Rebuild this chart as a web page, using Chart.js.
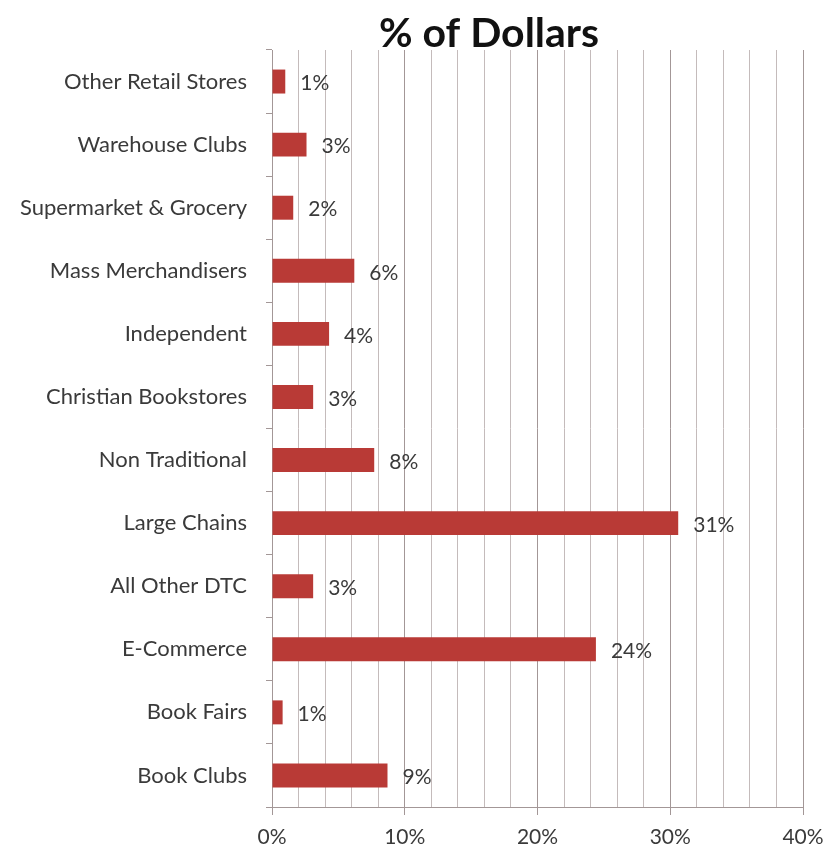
<!DOCTYPE html>
<html>
<head>
<meta charset="utf-8">
<script src="https://cdn.jsdelivr.net/npm/chart.js@4.4.1/dist/chart.umd.min.js"></script>
<style>
  html, body { margin: 0; padding: 0; background: #ffffff; }
  #wrap { width: 830px; height: 856px; position: relative; }
</style>
</head>
<body>
<div id="wrap"><canvas id="chart" width="830" height="856"></canvas></div>
<script>
// Share of book sales dollars by retail channel (percent)
const channels = [
  'Other Retail Stores',
  'Warehouse Clubs',
  'Supermarket & Grocery',
  'Mass Merchandisers',
  'Independent',
  'Christian Bookstores',
  'Non Traditional',
  'Large Chains',
  'All Other DTC',
  'E-Commerce',
  'Book Fairs',
  'Book Clubs'
];
const dollarShare = [1.0, 2.6, 1.6, 6.2, 4.3, 3.1, 7.7, 30.6, 3.1, 24.4, 0.8, 8.7];
const axisMax = 40;
const gridStep = 2;
const labelStep = 10;
const chartTitle = '% of Dollars';

const FONT = 'Lato, "Open Sans", "DejaVu Sans", sans-serif';
const TEXT = '#3a3a3a';
const BAR = '#b93a36';
const MINOR_GRID = '#c4bbbb';
const MAJOR_GRID = '#a39797';

// Title drawn centred over the label + plot block
const titlePlugin = {
  id: 'centredTitle',
  afterDraw(chart) {
    const c = chart.ctx;
    c.save();
    c.font = 'bold 41px ' + FONT;
    c.fillStyle = '#111111';
    c.textAlign = 'center';
    c.textBaseline = 'alphabetic';
    c.fillText(chartTitle, 489, 47);
    c.restore();
  }
};

// Percentage labels to the right of each bar
const valueLabels = {
  id: 'valueLabels',
  afterDatasetsDraw(chart) {
    const c = chart.ctx;
    const meta = chart.getDatasetMeta(0);
    c.save();
    c.font = '21px ' + FONT;
    c.fillStyle = TEXT;
    c.textAlign = 'left';
    c.textBaseline = 'middle';
    meta.data.forEach((bar, i) => {
      const v = chart.data.datasets[0].data[i];
      c.fillText(Math.round(v) + '%', bar.x + 15, bar.y + 2);
    });
    c.restore();
  }
};

new Chart(document.getElementById('chart'), {
  type: 'bar',
  data: {
    labels: channels,
    datasets: [{
      data: dollarShare,
      backgroundColor: BAR,
      borderWidth: 0,
      barPercentage: 0.38,
      categoryPercentage: 1.0
    }]
  },
  options: {
    indexAxis: 'y',
    responsive: false,
    animation: false,
    layout: { padding: { top: 50, right: 27, left: 0, bottom: 0 } },
    plugins: {
      legend: { display: false },
      title: { display: false },
      tooltip: { enabled: false }
    },
    scales: {
      x: {
        min: 0,
        max: axisMax,
        afterFit(scale) {
          scale.height = 49;
          scale.paddingLeft = 0;
          scale.paddingRight = 0;
        },
        ticks: {
          stepSize: gridStep,
          autoSkip: false,
          maxRotation: 0,
          padding: 10,
          color: TEXT,
          font: { family: FONT, size: 21 },
          callback: (v) => (v % labelStep === 0 ? v + '%' : '')
        },
        grid: {
          color: (ctx) => (ctx.tick && ctx.tick.value % labelStep === 0 ? MAJOR_GRID : MINOR_GRID),
          tickColor: (ctx) => (ctx.tick && ctx.tick.value % labelStep === 0 ? MAJOR_GRID : 'rgba(0,0,0,0)'),
          tickLength: 8,
          lineWidth: 1
        },
        border: { color: MAJOR_GRID, width: 1 }
      },
      y: {
        afterFit(scale) { scale.width = 272; },
        ticks: {
          padding: 19,
          color: TEXT,
          font: { family: FONT, size: 22 }
        },
        grid: {
          offset: true,
          drawOnChartArea: false,
          tickLength: 6,
          tickColor: MAJOR_GRID
        },
        border: { color: MAJOR_GRID, width: 1 }
      }
    }
  },
  plugins: [titlePlugin, valueLabels]
});
</script>
</body>
</html>
